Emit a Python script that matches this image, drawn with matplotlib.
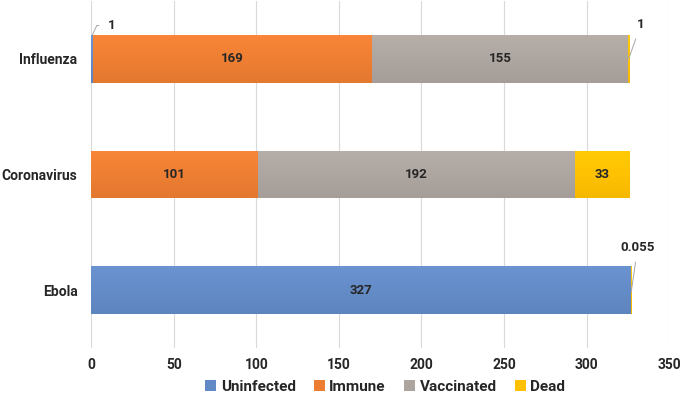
import matplotlib
matplotlib.use("Agg")
import matplotlib.pyplot as plt
import numpy as np
from matplotlib.colors import to_rgb

plt.rcParams["font.family"] = ["Roboto", "DejaVu Sans"]

diseases = ["Ebola", "Coronavirus", "Influenza"]
groups = ["Uninfected", "Immune", "Vaccinated", "Dead"]
uninfected = [327, 0, 1]
immune = [0, 101, 169]
vaccinated = [0, 192, 155]
dead = [0.055, 33, 1]
series = [uninfected, immune, vaccinated, dead]
colors = ["#628ac6", "#ed7d31", "#aca49f", "#ffc000"]

fig = plt.figure(figsize=(6.82, 4.03), dpi=100)
ax = fig.add_axes([0.134, 0.137, 0.847, 0.86])

y = np.arange(len(diseases))
left = np.zeros(len(diseases))
bars = []
for vals, name, col in zip(series, groups, colors):
    b = ax.barh(y, vals, left=left, height=0.41, color=col, label=name, zorder=2)
    bars.append(b)
    # soft vertical gradient like the Excel fill
    c = np.array(to_rgb(col))
    grad = np.linspace(0, 1, 64)[:, None]
    img = np.clip(c * (1.03 - 0.07 * grad) + 0.02 * (1 - grad), 0, 1)
    img = np.repeat(img[:, None, :], 2, axis=1)
    for p in b.patches:
        if p.get_width() <= 0:
            continue
        x0, y0 = p.get_x(), p.get_y()
        im = ax.imshow(img, extent=(x0, x0 + p.get_width(), y0, y0 + p.get_height()),
                       aspect="auto", origin="upper", zorder=3)
        im.set_clip_path(p)
    left = left + np.array(vals)

ax.set_xlim(0, 350)
ax.set_ylim(-0.5, 2.5)
ax.set_xticks(np.arange(0, 351, 50))
ax.set_yticks(y)
ax.set_yticklabels(diseases)
ax.grid(axis="x", color="#d9d9d9", lw=0.8, zorder=0)
ax.set_axisbelow(True)
for s in ax.spines.values():
    s.set_visible(False)
ax.tick_params(length=0, labelsize=10, colors="#262626")
ax.tick_params(axis="x", pad=7)
ax.tick_params(axis="y", pad=10)
for lab in ax.get_xticklabels() + ax.get_yticklabels():
    lab.set_fontweight("bold")

# inside labels
txt = dict(ha="center", va="center", fontsize=9.5, fontweight="bold", color="#262626", zorder=5)
left = np.zeros(len(diseases))
for vals in series:
    for i, v in enumerate(vals):
        if v >= 10:
            ax.text(left[i] + v / 2, y[i], f"{v:g}", **txt)
    left = left + np.array(vals)

# small segments labelled outside with leader lines
lead = dict(arrowstyle="-", color="#a6a6a6", lw=0.7, shrinkA=4, shrinkB=0)
ann = dict(fontsize=9.5, fontweight="bold", color="#262626", zorder=5)
ax.annotate(f"{uninfected[2]:g}", xy=(0.5, y[2] + 0.205), xytext=(12, 2.29),
            ha="center", va="center",
            arrowprops=dict(lead, connectionstyle="angle,angleA=0,angleB=65,rad=0"),
            **ann)
tot_flu = uninfected[2] + immune[2] + vaccinated[2] + dead[2]
ax.annotate(f"{dead[2]:g}", xy=(tot_flu - 0.5, y[2]), xytext=(333, 2.3),
            ha="center", va="center", arrowprops=lead, **ann)
tot_ebola = uninfected[0] + dead[0]
ax.annotate(f"{dead[0]:g}", xy=(tot_ebola, y[0] - 0.02), xytext=(331, 0.37),
            ha="center", va="center", arrowprops=lead, **ann)

leg = fig.legend(handles=[b for b in bars], labels=groups, loc="center", ncol=4,
                 bbox_to_anchor=(0.565, 0.04), frameon=False, handlelength=0.7,
                 handleheight=0.7, handletextpad=0.3, columnspacing=1.2,
                 prop=dict(size=11, weight="bold"))
for t in leg.get_texts():
    t.set_color("#262626")

fig.savefig("out.png", dpi=100)
